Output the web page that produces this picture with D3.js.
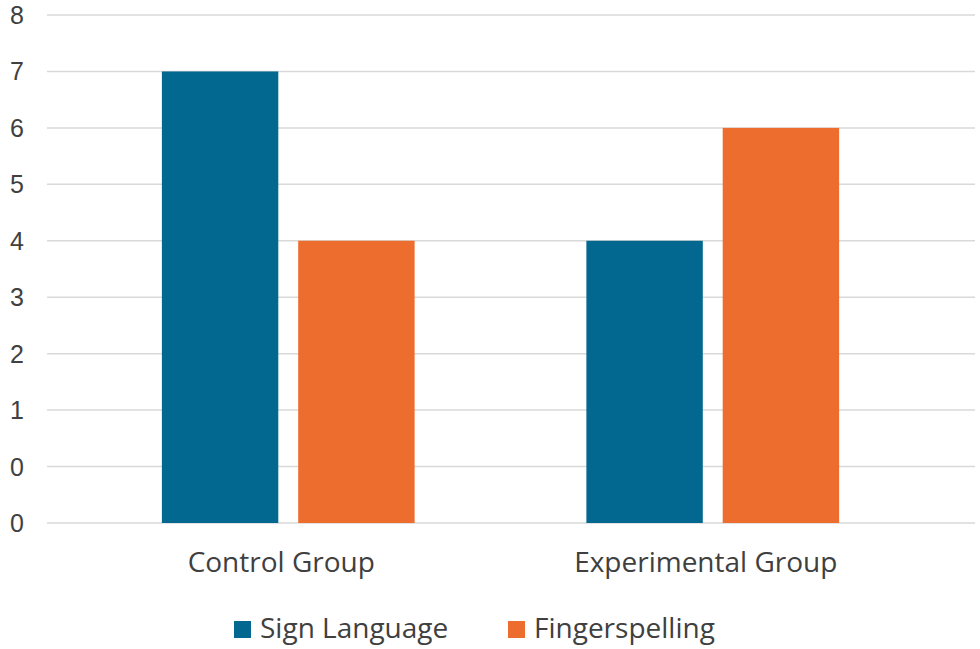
<!DOCTYPE html>
<html><head><meta charset="utf-8">
<script src="https://cdn.jsdelivr.net/npm/d3@7"></script>
<style>body{margin:0;background:#fff;}svg{display:block;}</style>
</head><body>
<script>
const categories = ["Control Group", "Experimental Group"];
const seriesNames = ["Sign Language", "Fingerspelling"];
const signLanguage = [7, 4];
const fingerspelling = [4, 6];
const tickValues = [-1, 0, 1, 2, 3, 4, 5, 6, 7, 8];
const tickLabels = ["0", "0", "1", "2", "3", "4", "5", "6", "7", "8"];
const colors = ["#02688F", "#EC6D2D"];

const W = 980, H = 649;
const svg = d3.select("body").append("svg").attr("width", W).attr("height", H);
const y = d3.scaleLinear().domain([-1, 8]).range([523, 15]);
const x = d3.scaleBand().domain(categories).range([76, 925]);
const xs = d3.scaleBand().domain(seriesNames).range([0, x.bandwidth()]).paddingInner(0.146).paddingOuter(0.63);

// gridlines
svg.append("g").selectAll("line").data(tickValues).join("line")
  .attr("x1", 47).attr("x2", 975)
  .attr("y1", d => y(d)).attr("y2", d => y(d))
  .attr("stroke", "#d9d9d9").attr("stroke-width", 1.5);

// y labels
svg.append("g").selectAll("text").data(tickValues).join("text")
  .attr("x", 17).attr("y", d => y(d) + 9)
  .attr("text-anchor", "middle")
  .attr("font-family", "Liberation Sans, Arial, sans-serif")
  .attr("font-size", 25).attr("fill", "#404040")
  .text((d, i) => tickLabels[i]);

const series = [signLanguage, fingerspelling];
series.forEach((vals, si) => {
  svg.append("g").selectAll("rect").data(categories).join("rect")
    .attr("x", c => x(c) + xs(seriesNames[si]))
    .attr("width", xs.bandwidth())
    .attr("y", (c, i) => y(vals[i]))
    .attr("height", (c, i) => y(-1) - y(vals[i]))
    .attr("fill", colors[si]);
});

// x labels
svg.append("g").selectAll("text").data(categories).join("text")
  .attr("x", c => x(c) + x.bandwidth() / 2 - 7)
  .attr("y", 572)
  .attr("text-anchor", "middle")
  .attr("font-family", "Open Sans, sans-serif")
  .attr("font-size", 28).attr("fill", "#404040")
  .text(c => c);

// legend
const legendX = [234, 508];
const lg = svg.append("g");
seriesNames.forEach((n, i) => {
  lg.append("rect").attr("x", legendX[i]).attr("y", 621).attr("width", 17).attr("height", 17).attr("fill", colors[i]);
  lg.append("text").attr("x", legendX[i] + 26).attr("y", 638)
    .attr("font-family", "Open Sans, sans-serif")
    .attr("font-size", 28).attr("fill", "#404040").text(n);
});
</script>
</body></html>
